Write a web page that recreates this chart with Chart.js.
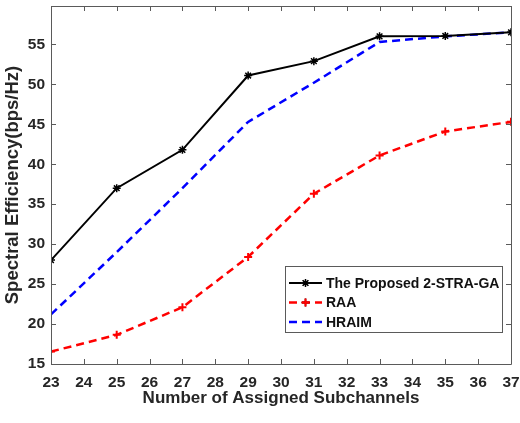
<!DOCTYPE html>
<html>
<head>
<meta charset="utf-8">
<script src="https://cdn.jsdelivr.net/npm/chart.js@4"></script>
<style>
  html, body { margin: 0; padding: 0; background: #ffffff; }
  canvas { display: block; }
</style>
</head>
<body>
<canvas id="chart" width="520" height="423"></canvas>
<script>
// Number of assigned subchannels (x values)
const subchannels = [23, 25, 27, 29, 31, 33, 35, 37];

// Spectral efficiency (bps/Hz) per scheme
const proposed = [28.0, 37.0, 41.8, 51.1, 52.9, 56.0, 56.05, 56.5];
const raa      = [16.55, 18.65, 22.1, 28.4, 36.3, 41.1, 44.1, 45.3];
const hraim    = [21.2, 29.0, 37.0, 45.3, 50.2, 55.3, 56.0, 56.5];

const seriesNames = ['The Proposed 2-STRA-GA', 'RAA', 'HRAIM'];

// Axis tick values
const xTicks = [23, 24, 25, 26, 27, 28, 29, 30, 31, 32, 33, 34, 35, 36, 37];
const yTicks = [15, 20, 25, 30, 35, 40, 45, 50, 55];

const FONT = '"Liberation Sans", Arial, Helvetica, sans-serif';
const AXIS_COLOR = '#5a5a5a';

const toPoints = (ys) => subchannels.map((x, i) => ({ x: x, y: ys[i] }));

// Frame, inward tick marks on all four sides, and the boxed legend
const framePlugin = {
  id: 'frame',
  afterDatasetsDraw(chart) {
    const { ctx, chartArea: a, scales } = chart;
    const tl = 5;
    ctx.save();
    ctx.strokeStyle = AXIS_COLOR;
    ctx.lineWidth = 1;
    ctx.beginPath();
    ctx.rect(Math.round(a.left) + 0.5, Math.round(a.top) + 0.5,
             Math.round(a.right - a.left), Math.round(a.bottom - a.top));
    ctx.stroke();
    ctx.beginPath();
    xTicks.forEach(v => {
      const px = Math.round(scales.x.getPixelForValue(v)) + 0.5;
      ctx.moveTo(px, a.bottom); ctx.lineTo(px, a.bottom - tl);
      ctx.moveTo(px, a.top); ctx.lineTo(px, a.top + tl);
    });
    yTicks.forEach(v => {
      const py = Math.round(scales.y.getPixelForValue(v)) + 0.5;
      ctx.moveTo(a.left, py); ctx.lineTo(a.left + tl, py);
      ctx.moveTo(a.right, py); ctx.lineTo(a.right - tl, py);
    });
    ctx.stroke();

    // legend box
    const bx = 285.5, by = 266.5, bw = 217, bh = 66;
    ctx.fillStyle = '#ffffff';
    ctx.fillRect(bx, by, bw, bh);
    ctx.strokeStyle = AXIS_COLOR;
    ctx.strokeRect(bx, by, bw, bh);
    ctx.font = 'bold 14px ' + FONT;
    ctx.textBaseline = 'middle';
    ctx.textAlign = 'left';
    chart.data.datasets.forEach((ds, i) => {
      const cy = 283 + i * 19.5;
      const x0 = 289, x1 = 322;
      ctx.save();
      ctx.strokeStyle = ds.borderColor;
      ctx.lineWidth = ds.borderWidth;
      ctx.setLineDash(ds.borderDash || []);
      ctx.beginPath();
      ctx.moveTo(x0, cy); ctx.lineTo(x1, cy);
      ctx.stroke();
      ctx.restore();
      if (ds.pointStyle && ds.pointRadius > 0) {
        Chart.helpers.drawPoint(ctx, {
          pointStyle: ds.pointStyle,
          radius: ds.pointRadius,
          borderWidth: ds.pointBorderWidth,
          rotation: 0
        }, (x0 + x1) / 2, cy);
        ctx.strokeStyle = ds.borderColor;
        ctx.lineWidth = ds.pointBorderWidth;
        ctx.stroke();
      }
      ctx.fillStyle = '#111111';
      ctx.fillText(ds.label, 326, cy + 1);
    });
    ctx.restore();
  }
};

new Chart(document.getElementById('chart'), {
  type: 'line',
  data: {
    datasets: [
      {
        label: seriesNames[0],
        data: toPoints(proposed),
        borderColor: '#000000',
        backgroundColor: '#000000',
        borderWidth: 2,
        pointStyle: 'star',
        pointRadius: 4,
        pointBorderWidth: 1.5,
        pointBorderColor: '#000000',
        pointBackgroundColor: '#000000',
        tension: 0
      },
      {
        label: seriesNames[1],
        data: toPoints(raa),
        borderColor: '#ff0000',
        backgroundColor: '#ff0000',
        borderWidth: 2.5,
        borderDash: [8, 5],
        pointStyle: 'cross',
        pointRadius: 4,
        pointBorderWidth: 2,
        pointBorderColor: '#ff0000',
        tension: 0
      },
      {
        label: seriesNames[2],
        data: toPoints(hraim),
        borderColor: '#0000ff',
        backgroundColor: '#0000ff',
        borderWidth: 2.5,
        borderDash: [8, 5],
        pointRadius: 0,
        pointBorderWidth: 0,
        tension: 0
      }
    ]
  },
  options: {
    responsive: false,
    animation: false,
    devicePixelRatio: 1,
    layout: { padding: { top: 6, right: 9, left: 0, bottom: 0 } },
    plugins: {
      legend: { display: false },
      tooltip: { enabled: false }
    },
    scales: {
      x: {
        type: 'linear',
        min: 23,
        max: 37,
        afterBuildTicks: (s) => { s.ticks = xTicks.map(v => ({ value: v })); },
        afterFit: (s) => { s.height = 59; s.paddingLeft = 0; s.paddingRight = 0; },
        grid: { display: false, drawTicks: false },
        border: { display: false },
        ticks: {
          color: '#262626',
          padding: 9,
          maxRotation: 0,
          autoSkip: false,
          font: { family: FONT, size: 15.5, weight: 'bold' }
        },
        title: {
          display: true,
          text: 'Number of Assigned Subchannels',
          color: '#262626',
          padding: { top: 0, bottom: 14 },
          font: { family: FONT, size: 17, weight: 'bold' }
        }
      },
      y: {
        type: 'linear',
        min: 15,
        max: 59.8,
        afterBuildTicks: (s) => { s.ticks = yTicks.map(v => ({ value: v })); },
        afterFit: (s) => { s.width = 51; s.paddingTop = 0; s.paddingBottom = 0; },
        grid: { display: false, drawTicks: false },
        border: { display: false },
        ticks: {
          color: '#262626',
          padding: 6,
          autoSkip: false,
          font: { family: FONT, size: 15.5, weight: 'bold' }
        },
        title: {
          display: true,
          text: 'Spectral Efficiency(bps/Hz)',
          color: '#262626',
          padding: { top: 2, bottom: 0 },
          font: { family: FONT, size: 18.5, weight: 'bold' }
        }
      }
    }
  },
  plugins: [framePlugin]
});
</script>
</body>
</html>
